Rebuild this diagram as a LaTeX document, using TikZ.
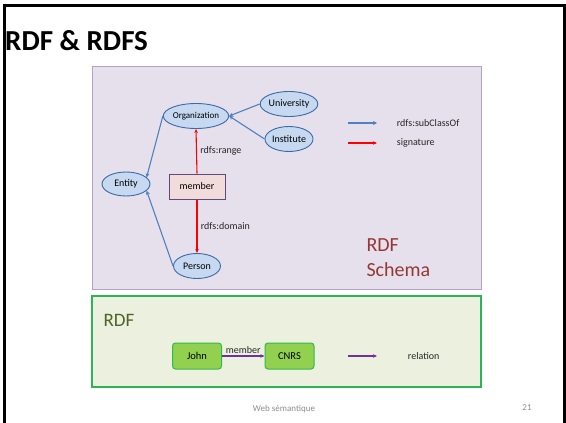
\documentclass[tikz,border=0pt]{standalone}
\usepackage{fontspec}
\setmainfont{Carlito}
\usetikzlibrary{shapes.geometric,arrows.meta,positioning}
\definecolor{schemafill}{HTML}{E6E0EC}
\definecolor{schemaline}{HTML}{B3A2C7}
\definecolor{rdffill}{HTML}{EBF1DE}
\definecolor{rdfline}{HTML}{2DB35A}
\definecolor{clsfill}{HTML}{C6D9F1}
\definecolor{clsline}{HTML}{3C6AA5}
\definecolor{subcol}{HTML}{4F81BD}
\definecolor{propfill}{HTML}{F2DCDB}
\definecolor{propline}{HTML}{604A7B}
\definecolor{instfill}{HTML}{92D050}
\definecolor{instline}{HTML}{33B84E}
\definecolor{relcol}{HTML}{7030A0}
\definecolor{schematext}{HTML}{953735}
\definecolor{rdftext}{HTML}{4F6228}
\tikzset{
  cls/.style={ellipse, draw=clsline, fill=clsfill, line width=0.9pt, minimum width=47pt,
    minimum height=25pt, inner sep=0pt, font=\fontsize{10}{11}\selectfont},
  inst/.style={rectangle, rounded corners=3pt, draw=instline, fill=instfill, line width=1pt,
    minimum width=49pt, minimum height=26pt, font=\fontsize{10.5}{12}\selectfont},
  sub/.style={-{Stealth[length=4pt,width=4pt]}, subcol, line width=1.1pt},
  sig/.style={-{Stealth[length=4pt,width=3.5pt]}, red, line width=1.1pt},
  rel/.style={-{Stealth[length=4pt,width=3.5pt]}, relcol, line width=1.3pt},
  lbl/.style={font=\fontsize{10}{11}\selectfont, text=black!85}
}
\begin{document}
\begin{tikzpicture}[x=1pt,y=-1pt]
	\useasboundingbox (0,0) rectangle (566,423);
	% slide frame
	\draw[line width=3pt] (4.5,423) -- (4.5,5.5) -- (564.5,5.5) -- (564.5,423);
	\node[anchor=base west, font=\fontsize{29}{31}\selectfont\bfseries, inner sep=0pt] (title) at (5,50) {RDF \& RDFS};
	% panels
	\draw[schemaline, fill=schemafill, line width=1pt] (92,66) rectangle (481,289);
	\draw[rdfline, fill=rdffill, line width=1.3pt] (92,296) rectangle (481,387);
	% schema
	\node[cls, font=\fontsize{9}{10}\selectfont] (org) at (196,116) {Organization};
	\node[cls] (uni) at (289,104) {University};
	\node[cls] (inst) at (289,139) {Institute};
	\node[cls, minimum width=48pt, minimum height=24pt] (ent) at (126,184) {Entity};
	\node[cls] (pers) at (197,266) {Person};
	\node[draw=propline, fill=propfill, line width=1pt, minimum width=56pt, minimum height=25pt,
		font=\fontsize{10}{11}\selectfont] (mem) at (197,186.5) {member};
	\draw[sub] (uni.west) -- (org.east);
	\draw[sub] (inst.west) -- (org.east);
	\draw[sub] (org.west) -- (ent.18);
	\draw[sub] (pers.west) -- (ent.-18);
	\draw[sig] (mem.north) -- node[lbl, right] {rdfs:range} (org.south);
	\draw[sig] (mem.south) -- node[lbl, right] {rdfs:domain} (pers.north);
	% legend
	\coordinate (s1) at (348,123); \coordinate (e1) at (377,123);
	\coordinate (s2) at (348,143); \coordinate (e2) at (377,143);
	\draw[sub] (s1) -- (e1) node[lbl, right=16pt] {rdfs:subClassOf};
	\draw[sig] (s2) -- (e2) node[lbl, right=16pt] {signature};
	\node[anchor=west, align=left, text=schematext, font=\fontsize{20}{25}\selectfont] (schema) at (363,258) {RDF\\Schema};
	% rdf
	\node[anchor=west, text=rdftext, font=\fontsize{19}{21}\selectfont] (rdf) at (100,320) {RDF};
	\node[inst] (john) at (197,356) {John};
	\node[inst] (cnrs) at (289.5,356) {CNRS};
	\draw[rel] (john) -- node[lbl, above=-2pt] {member} (cnrs);
	\coordinate (s3) at (348,356); \coordinate (e3) at (377,356);
	\draw[rel] (s3) -- (e3) node[lbl, right=27pt] {relation};
	% footer
	\node[font=\fontsize{9}{10}\selectfont, text=black!45] (foot) at (284,409) {Web sémantique};
	\node[font=\fontsize{9}{10}\selectfont, text=black!45] (num) at (527,408) {21};
\end{tikzpicture}
\end{document}
